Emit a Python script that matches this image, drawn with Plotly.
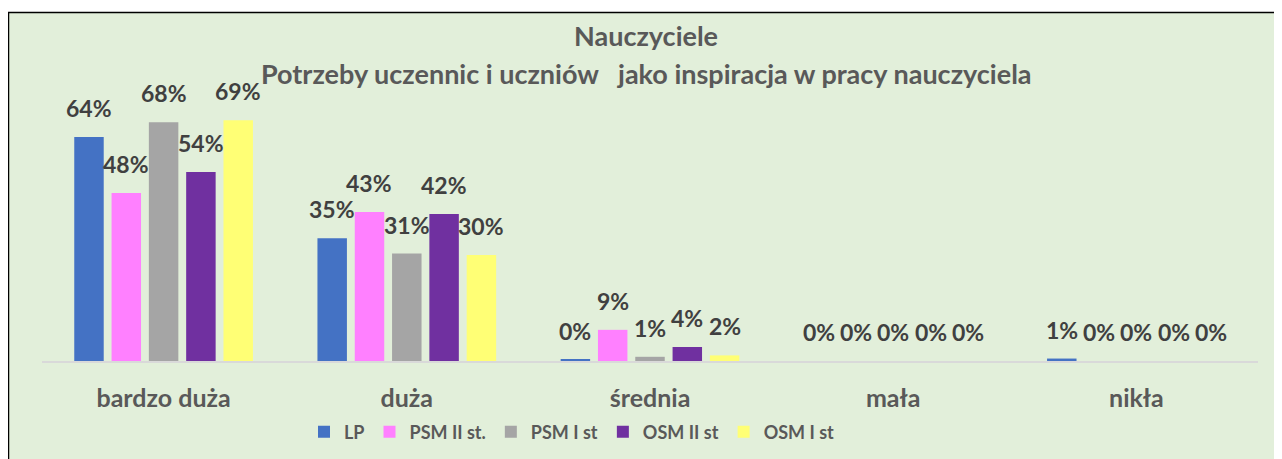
import plotly.graph_objects as go

categories = ["bardzo duża", "duża", "średnia", "mała", "nikła"]
series_names = ["LP", "PSM II st.", "PSM I st", "OSM II st", "OSM I st"]
lp = [64.0, 35.1, 0.4, 0.0, 0.7]
psm2 = [48.0, 42.6, 8.9, 0.0, 0.0]
psm1 = [68.2, 30.7, 1.2, 0.0, 0.0]
osm2 = [54.0, 42.0, 4.0, 0.0, 0.0]
osm1 = [68.8, 30.3, 1.6, 0.0, 0.0]
series_values = [lp, psm2, psm1, osm2, osm1]
colors = ["#4472C4", "#FF80FF", "#A5A5A5", "#7030A0", "#FFFF75"]
title_lines = ["Nauczyciele",
               "Potrzeby uczennic i uczniów\u00a0\u00a0\u00a0jako inspiracja w pracy nauczyciela"]

# page offset (browser body margin) compensation
OFF = 8
W, H = 1282, 459
ML, MR, MT, MB = 42 - OFF, 32, 81 - OFF, 459 - (361 - OFF)
plot_w = W - ML - MR
plot_h = H - MT - MB
bargap = 0.233
slot = plot_w / len(categories) * (1 - bargap) / len(series_names)


def px_x(page_x):
    return (page_x - OFF - ML) / plot_w


def px_y(page_y):
    return (H - MB - (page_y - OFF)) / plot_h


FONT = "Lato"
fig = go.Figure()
for name, vals, col in zip(series_names, series_values, colors):
    fig.add_trace(go.Bar(x=categories, y=vals, name=name,
                         marker=dict(color=col, line=dict(width=0))))

annotations = []
for i, vals in enumerate(series_values):
    for cat, v in zip(categories, vals):
        annotations.append(dict(
            x=cat, y=v, xref="x", yref="y", text=f"{v:.0f}%", showarrow=False,
            xanchor="center", yanchor="bottom", xshift=(i - 2) * slot, yshift=13,
            font=dict(family=FONT, size=23, color="#404040", weight="bold")))

for txt, cy in zip(title_lines, [36, 73]):
    annotations.append(dict(
        x=px_x(646), y=px_y(cy), xref="paper", yref="paper", text=txt,
        showarrow=False, xanchor="center", yanchor="middle",
        font=dict(family=FONT, size=27, color="#595959", weight="bold")))

fig.update_layout(
    width=W, height=H,
    margin=dict(l=ML, r=MR, t=MT, b=MB),
    paper_bgcolor="white", plot_bgcolor="rgba(0,0,0,0)",
    barmode="group", bargap=bargap, bargroupgap=0.21,
    xaxis=dict(showline=True, linecolor="#D9D9D9", linewidth=1.5, ticks="",
               ticklabelstandoff=14,
               tickfont=dict(family=FONT, size=25, color="#595959", weight="bold")),
    yaxis=dict(visible=False, range=[0, 80], fixedrange=True),
    showlegend=True,
    legend=dict(orientation="h", x=px_x(304), xanchor="left",
                y=px_y(432), yanchor="middle",
                bgcolor="rgba(0,0,0,0)",
                font=dict(family=FONT, size=18, color="#595959", weight="bold")),
    annotations=annotations,
    shapes=[dict(type="rect", xref="paper", yref="paper", layer="below",
                 x0=px_x(8.5), x1=px_x(W + 40),
                 y0=px_y(H + 40), y1=px_y(12.5),
                 fillcolor="#E2EFDA", line=dict(color="black", width=1.5))],
)

fig.write_html("out.html")
